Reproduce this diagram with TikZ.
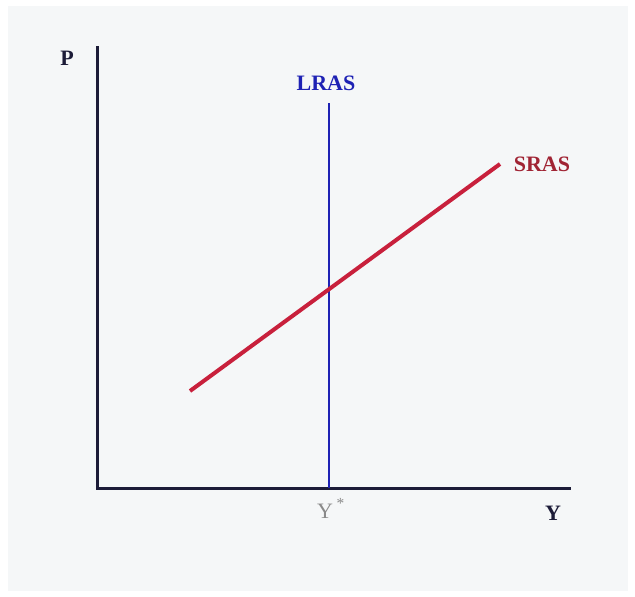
\documentclass[tikz,border=0pt]{standalone}
\usepackage{fontspec}
\setmainfont{Liberation Serif}
\definecolor{bgc}{HTML}{F5F7F8}
\definecolor{axisc}{HTML}{1C1C38}
\definecolor{lrasc}{HTML}{1E22B4}
\definecolor{srasc}{HTML}{C8203C}
\definecolor{sraslab}{HTML}{A02434}
\definecolor{ystar}{HTML}{8A8A8A}
\tikzset{
  lab/.style={font=\fontsize{22}{25}\selectfont\bfseries, inner sep=0pt},
  axisline/.style={draw=axisc, line width=3pt},
}
\begin{document}
\begin{tikzpicture}[x=1pt,y=-1pt]
\useasboundingbox (0,0) rectangle (635,597);
\fill[white] (0,0) rectangle (635,597);
\fill[bgc] (8,6) rectangle (628,591);
% axes
\coordinate (top) at (97,46);
\coordinate (orig) at (97,488);
\coordinate (xend) at (571,488);
\draw[axisline] (top) -- (orig) -- (xend);
% LRAS
\coordinate (ltop) at (329,103);
\coordinate (lbot) at (329,488);
\draw[lrasc, line width=2.8pt] (ltop) -- (lbot);
% SRAS
\coordinate (s1) at (190,391);
\coordinate (s2) at (500,164);
\draw[srasc, line width=4pt] (s1) -- (s2);
% labels
\node[lab, text=axisc] (P) at (67,58) {P};
\node[lab, text=lrasc] (LRAS) at (326,83) {LRAS};
\node[lab, text=sraslab] (SRAS) at (542,164) {SRAS};
\node[lab, font=\fontsize{22}{25}\selectfont, text=ystar, anchor=base] (Ys) at (331,518) {Y\,\raisebox{1.5pt}{\textsuperscript{*}}};
\node[lab, text=axisc] (Y) at (553,513) {Y};
\end{tikzpicture}
\end{document}
